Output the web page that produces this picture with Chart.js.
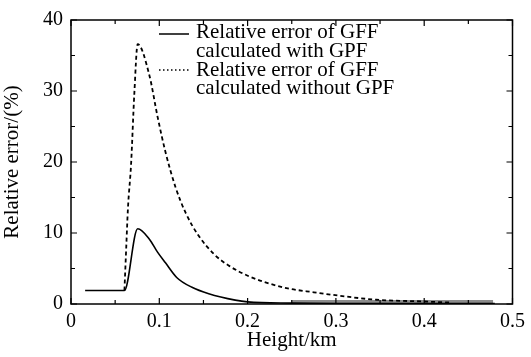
<!DOCTYPE html>
<html>
<head>
<meta charset="utf-8">
<script src="https://cdn.jsdelivr.net/npm/chart.js@4.4.1/dist/chart.umd.min.js"></script>
<style>
  html, body { margin: 0; padding: 0; background: #fff; }
  #wrap { width: 531px; height: 357px; }
</style>
</head>
<body>
<div id="wrap"><canvas id="errChart"></canvas></div>
<script>
// height (km) and relative error (%)
const heightsWith = [0.016, 0.0605, 0.0755, 0.089, 0.098, 0.107, 0.120, 0.137, 0.156, 0.186, 0.20, 0.25, 0.30, 0.35, 0.40, 0.45, 0.48];
const errWithGpf = [1.9, 1.9, 10.6, 9.1, 7.3, 5.8, 3.7, 2.35, 1.45, 0.55, 0.3, 0.12, 0.08, 0.08, 0.08, 0.08, 0.08];

const heightsWithout = [0.0605, 0.0625, 0.0645, 0.068, 0.0717, 0.0755, 0.0886, 0.098, 0.107, 0.1185, 0.130, 0.1446, 0.163, 0.180, 0.2007, 0.219, 0.2455, 0.275, 0.305, 0.346, 0.40, 0.43];
const errWithoutGpf = [1.9, 7.8, 13.5, 19.6, 29.6, 36.6, 32.3, 26.4, 21.4, 16.4, 12.8, 9.6, 6.9, 5.3, 3.95, 3.1, 2.2, 1.65, 1.15, 0.6, 0.35, 0.2];

// grey band lying on the axis
const bandHeights = [0.25, 0.478];
const bandValues = [0.3, 0.3];

const legendLines = [
  ['Relative error of GFF', 'calculated with GPF'],
  ['Relative error of GFF', 'calculated without GPF']
];

const xTicks = [0, 0.1, 0.2, 0.3, 0.4, 0.5];
const yTicks = [0, 10, 20, 30, 40];

const FONT = 'Liberation Serif, Times New Roman, serif';

function toPoints(xs, ys) {
  return xs.map((x, i) => ({ x: x, y: ys[i] }));
}

// inward ticks on all four sides + frame + legend
const framePlugin = {
  id: 'frame',
  afterDraw(chart) {
    const ctx = chart.ctx;
    const a = chart.chartArea;
    const xs = chart.scales.x, ys = chart.scales.y;
    ctx.save();
    ctx.strokeStyle = '#000';
    ctx.lineWidth = 1.5;
    ctx.strokeRect(a.left, a.top, a.right - a.left, a.bottom - a.top);
    ctx.lineWidth = 1.2;
    ctx.beginPath();
    for (let i = 0; i <= 10; i++) {
      const px = xs.getPixelForValue(i * 0.05);
      const len = i % 2 === 0 ? 6 : 4;
      ctx.moveTo(px, a.bottom); ctx.lineTo(px, a.bottom - len);
      ctx.moveTo(px, a.top); ctx.lineTo(px, a.top + len);
    }
    for (let i = 0; i <= 8; i++) {
      const py = ys.getPixelForValue(i * 5);
      const len = i % 2 === 0 ? 6 : 4;
      ctx.moveTo(a.left, py); ctx.lineTo(a.left + len, py);
      ctx.moveTo(a.right, py); ctx.lineTo(a.right - len, py);
    }
    ctx.stroke();

    // legend
    const lx0 = 159, lx1 = 189, tx = 196;
    const rows = [34, 70];
    const baselines = [[38, 57], [76, 94]];
    ctx.font = '21px ' + FONT;
    ctx.fillStyle = '#000';
    ctx.textBaseline = 'alphabetic';
    rows.forEach((y, i) => {
      ctx.beginPath();
      ctx.lineWidth = 1.5;
      ctx.setLineDash(i === 0 ? [] : [1.5, 2.5]);
      ctx.moveTo(lx0, y); ctx.lineTo(lx1, y);
      ctx.stroke();
      ctx.setLineDash([]);
      ctx.fillText(legendLines[i][0], tx, baselines[i][0]);
      ctx.fillText(legendLines[i][1], tx, baselines[i][1]);
    });
    ctx.restore();
  }
};

const ctx = document.getElementById('errChart').getContext('2d');
new Chart(ctx, {
  type: 'line',
  data: {
    datasets: [
      {
        label: 'band',
        data: toPoints(bandHeights, bandValues),
        borderColor: '#8c8c8c',
        borderWidth: 3.5,
        pointRadius: 0,
        fill: false,
        order: 3
      },
      {
        label: 'Relative error of GFF calculated with GPF',
        data: toPoints(heightsWith, errWithGpf),
        borderColor: '#000',
        borderWidth: 1.6,
        pointRadius: 0,
        cubicInterpolationMode: 'monotone',
        fill: false,
        order: 2
      },
      {
        label: 'Relative error of GFF calculated without GPF',
        data: toPoints(heightsWithout, errWithoutGpf),
        borderColor: '#000',
        borderWidth: 1.8,
        borderDash: [4, 3],
        pointRadius: 0,
        cubicInterpolationMode: 'monotone',
        fill: false,
        order: 1
      }
    ]
  },
  options: {
    responsive: true,
    maintainAspectRatio: false,
    animation: false,
    layout: { padding: { top: 10, right: 14, left: 0, bottom: 0 } },
    plugins: {
      legend: { display: false },
      tooltip: { enabled: false }
    },
    scales: {
      x: {
        type: 'linear',
        min: 0,
        max: 0.5,
        afterFit(scale) { scale.height = 53; },
        afterBuildTicks(scale) { scale.ticks = xTicks.map(v => ({ value: v })); },
        grid: { display: false, drawTicks: false },
        border: { display: false },
        ticks: {
          color: '#000',
          padding: 6,
          maxRotation: 0,
          font: { family: FONT, size: 20 },
          callback: v => String(v)
        },
        title: {
          display: true,
          text: 'Height/km',
          color: '#000',
          padding: { top: 0, bottom: 4 },
          font: { family: FONT, size: 21 }
        }
      },
      y: {
        min: 0,
        max: 40,
        afterFit(scale) { scale.width = 71; },
        afterBuildTicks(scale) { scale.ticks = yTicks.map(v => ({ value: v })); },
        grid: { display: false, drawTicks: false },
        border: { display: false },
        ticks: {
          color: '#000',
          padding: 8,
          font: { family: FONT, size: 20 }
        },
        title: {
          display: true,
          text: 'Relative error/(%)',
          color: '#000',
          padding: { top: 0, bottom: 3 },
          font: { family: FONT, size: 21 }
        }
      }
    }
  },
  plugins: [framePlugin]
});
</script>
</body>
</html>
